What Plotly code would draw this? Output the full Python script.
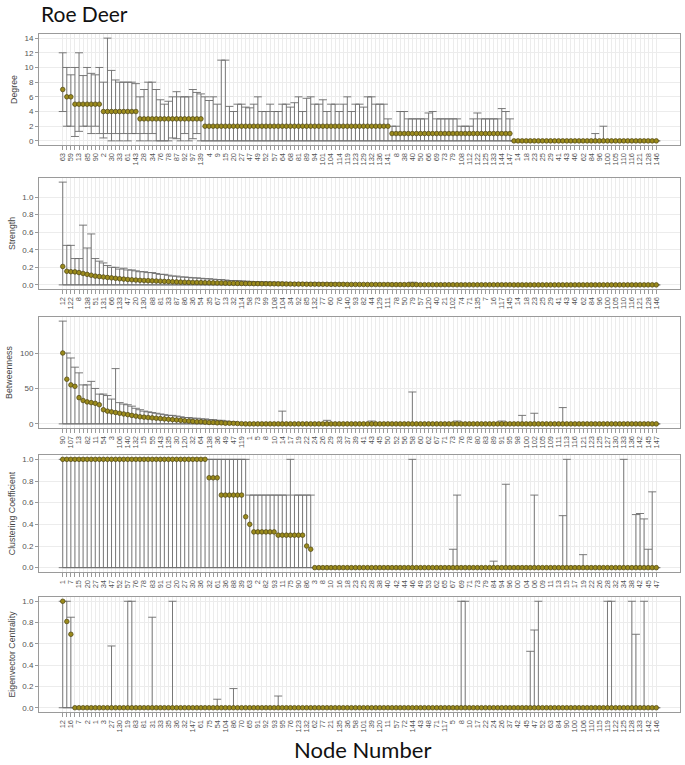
import plotly.graph_objects as go

# ---------------- DATA ----------------
# Degree panel (nodes sorted by value; every second node labelled)
deg_labels = ["63","59","13","85","90","2","30","33","61","143","28","34","76","78","87","92","97","139",
              "4","9","15","20","27","47","49","52","57","64","68","81","89","94","101","104","114","119",
              "123","129","132","136","141","8","38","40","50","66","69","73","79","108","112","122","125",
              "133","144","147","14","18","23","25","29","41","43","46","62","84","96","100","105","110",
              "116","121","128","146"]
deg_values = [7, 6, 6] + [5]*7 + [4]*9 + [3]*16 + [2]*46 + [1]*30 + [0]*36
deg_upper = ([12, 10, 9, 10, 12, 8.9, 10, 9.2, 9, 10, 8, 14, 9.6, 8.3, 8, 8, 8, 8, 7.8,
              6, 7, 8, 8, 7, 5.6, 5, 5.4, 6, 6.7, 6, 6, 6, 7, 6.6, 6.4,
              6, 5.5, 6, 5, 11, 11, 4.7, 4, 5, 5, 4.6, 4.5, 5, 6, 4, 4, 5, 4, 4, 5, 5, 4.6, 5.2, 6, 4,
              5.8, 6, 5, 5, 5.6, 4, 5, 5, 4, 5, 6, 4, 5, 5, 4.6, 6, 6, 5, 5, 5, 3,
              2, 2, 4, 4, 3, 3, 3, 3, 3, 3.8, 4, 3, 3, 3, 3, 3, 3, 2, 2, 2, 3, 3.8, 3, 3, 3, 3, 3, 4.4, 4, 3]
             + [0]*20 + [1, 0, 2] + [0]*13)
deg_lower = [4, 2, 2, 0.6, 1.3, 2, 2, 1, 2, 1, 0.4, 1, 0, 1, 0, 1, 0, 1, 1,
             0, 1, 0, 1, 0, 0, 0, 0, 0.4, 0.3, 0, 1, 0, 0.3, 1, 0] + [0]*112

# Strength panel
str_labels = ["12","122","8","138","51","131","66","133","47","20","130","88","81","33","87","86","36","54",
              "35","67","13","32","114","58","73","99","108","104","34","92","85","132","77","60","76","140",
              "93","82","44","129","111","78","50","79","57","120","40","21","102","74","71","135","7","16",
              "117","145","14","18","23","25","29","41","43","46","62","84","96","100","105","110","116",
              "121","128","146"]
str_values = ([0.21, 0.155, 0.15, 0.148, 0.14, 0.13, 0.12, 0.11, 0.10, 0.095,
               0.09, 0.085, 0.08, 0.075, 0.07, 0.066, 0.062, 0.058, 0.055, 0.052,
               0.05, 0.048, 0.046, 0.044, 0.042, 0.04, 0.038, 0.036, 0.034, 0.032,
               0.03, 0.029, 0.028, 0.027, 0.026, 0.025, 0.024, 0.023, 0.022, 0.021,
               0.02, 0.019, 0.018, 0.017, 0.016, 0.015, 0.015, 0.014, 0.014, 0.013,
               0.013, 0.012, 0.012, 0.011, 0.011, 0.010, 0.010, 0.009, 0.009, 0.009,
               0.008, 0.008, 0.008, 0.007, 0.007, 0.007, 0.006, 0.006, 0.006, 0.006,
               0.005, 0.005, 0.005, 0.005, 0.005, 0.004, 0.004, 0.004, 0.004, 0.004,
               0.004, 0.003, 0.003, 0.003, 0.003, 0.003, 0.003, 0.003, 0.002, 0.002,
               0.002, 0.002, 0.002, 0.002, 0.002, 0.002, 0.002, 0.001, 0.001, 0.001,
               0.001, 0.001, 0.001, 0.001, 0.001, 0.001, 0.001, 0.001, 0.001, 0.001, 0.001]
              + [0]*36)
str_upper = ([1.17, 0.45, 0.45, 0.30, 0.30, 0.68, 0.42, 0.58, 0.30, 0.27,
              0.25, 0.22, 0.20, 0.20, 0.18, 0.19, 0.17, 0.17, 0.16, 0.15,
              0.15, 0.14, 0.14, 0.13, 0.12, 0.12, 0.11, 0.10, 0.10, 0.09,
              0.09, 0.085, 0.08, 0.08, 0.075, 0.07, 0.07, 0.065, 0.06, 0.06,
              0.055, 0.05, 0.05, 0.048, 0.045, 0.042, 0.04, 0.038, 0.036, 0.035,
              0.033, 0.032, 0.031, 0.03, 0.029, 0.028, 0.027, 0.026, 0.026, 0.025,
              0.024, 0.023, 0.022, 0.022, 0.021, 0.02, 0.02, 0.019, 0.018, 0.018,
              0.017, 0.016, 0.016, 0.015, 0.014, 0.014, 0.013, 0.013, 0.012, 0.012,
              0.011, 0.011, 0.01, 0.01, 0.009, 0.009, 0.03, 0.008, 0.008, 0.007,
              0.006, 0.006, 0.006, 0.005, 0.005, 0.005, 0.004, 0.004, 0.004, 0.004,
              0.003, 0.003, 0.003, 0.003, 0.003, 0.002, 0.002, 0.002, 0.002, 0.002, 0.002]
             + [0]*36)
str_lower = [0]*147

# Betweenness panel
btw_labels = ["90","107","13","82","11","54","3","106","140","132","15","55","143","135","30","120","32","64",
              "138","36","49","47","119","1","5","8","10","14","17","19","22","24","26","29","33","37","39",
              "41","43","45","50","52","56","58","60","62","67","71","73","76","78","80","83","89","91","95",
              "98","100","102","105","109","111","113","116","121","123","125","127","130","133","136","142",
              "145","147"]
btw_values = ([100, 63, 55, 53, 37, 33, 31, 30, 29, 27,
               20, 18, 17, 16, 15, 14, 13, 12, 11, 10,
               9.5, 9, 8.5, 8, 7.5, 7, 6.5, 6, 5.5, 5,
               4.5, 4, 3.5, 3, 3, 2.5, 2, 2, 1.5, 1.5,
               1, 1, 0.8, 0.5, 0.3] + [0]*102)
btw_upper = ([145, 100, 93, 80, 72, 55, 55, 60, 50, 42,
              42, 40, 35, 78, 30, 28, 27, 25, 22, 20,
              18, 17, 16, 15, 14, 13, 12, 12, 11, 10,
              9, 9, 8, 8, 7, 7, 6, 6, 5, 5,
              4, 3, 3, 2, 2]
             + [0]*9 + [18] + [0]*10 + [5] + [0]*10 + [4] + [0]*9 + [45] + [0]*10 + [4]
             + [0]*10 + [4] + [0]*4 + [12] + [0]*2 + [15] + [0]*6 + [23] + [0]*23)
btw_lower = [0]*147

# Clustering coefficient panel
clu_labels = ["1","7","15","20","27","34","47","52","57","76","78","83","91","01","20","27","30","36",
              "32","61","36","88","39","63","2","82","93","11","75","90","86","3","8","10","16","18","23",
              "25","28","38","40","42","44","46","49","53","62","65","67","69","71","73","79","84","94","96",
              "00","04","06","09","11","13","15","17","19","22","26","28","32","34","38","42","45","47"]
clu_values = ([1.0]*36 + [0.83]*3 + [0.67]*6 + [0.47, 0.4] + [0.33]*6 + [0.3]*7 + [0.2, 0.17]
              + [0]*85)
clu_upper = ([1.0]*36 + [1.0]*3 + [1.0]*6 + [1.0, 0.67] + [0.67]*6
             + [0.67, 0.67, 0.67, 1.0, 0.67, 0.67, 0.67] + [0.67, 0.67]
             + [0]*24 + [1.0] + [0]*9 + [0.17, 0.67] + [0]*8 + [0.06] + [0]*2 + [0.77]
             + [0]*6 + [0.67] + [0]*6 + [0.48, 1.0] + [0]*3 + [0.12] + [0]*9 + [1.0]
             + [0]*2 + [0.49, 0.5, 0.45, 0.17, 0.7, 0])
clu_lower = [0]*147

# Eigenvector centrality panel
eig_labels = ["12","16","7","2","1","3","27","130","19","83","81","31","33","35","36","32","147","61",
              "75","54","104","86","70","65","91","92","93","95","76","123","132","62","77","21","135",
              "36","58","101","39","120","11","57","72","144","43","48","71","117","5","8","10","17","22",
              "24","26","37","42","45","47","52","63","84","90","100","106","110","115","119","122","125",
              "128","133","142","146"]
eig_values = [1.0, 0.81, 0.69] + [0]*144
eig_upper = ([1.0, 1.0, 0.85] + [0]*9 + [0.58] + [0]*3 + [1.0, 1.0] + [0]*4 + [0.85] + [0]*4
             + [1.0] + [0]*10 + [0.08] + [0]*3 + [0.18] + [0]*10 + [0.11] + [0]*44 + [1.0, 1.0]
             + [0]*15 + [0.53, 0.73, 1.0] + [0]*16 + [1.0, 1.0] + [0]*4 + [1.0, 0.69, 0, 1.0]
             + [0]*3)
eig_lower = [0]*147

for arr in (deg_values, deg_upper, deg_lower, str_values, str_upper, str_lower,
            btw_values, btw_upper, btw_lower, clu_values, clu_upper, clu_lower,
            eig_values, eig_upper, eig_lower):
    assert len(arr) == 147, len(arr)

panels = [
    ("Degree", deg_labels, deg_values, deg_upper, deg_lower, [0, 2, 4, 6, 8, 10, 12, 14], None),
    ("Strength", str_labels, str_values, str_upper, str_lower, [0, 0.2, 0.4, 0.6, 0.8, 1.0], ".1f"),
    ("Betweenness", btw_labels, btw_values, btw_upper, btw_lower, [0, 50, 100], None),
    ("Clustering Coefficient", clu_labels, clu_values, clu_upper, clu_lower, [0, 0.2, 0.4, 0.6, 0.8, 1.0], ".1f"),
    ("Eigenvector Centrality", eig_labels, eig_values, eig_upper, eig_lower, [0, 0.2, 0.4, 0.6, 0.8, 1.0], ".1f"),
]

# ---------------- LAYOUT ----------------
W, H = 685, 765
boxes = [(34, 145), (178, 289), (317, 428), (455, 572), (597, 712)]
x_left, x_right = 39, 680

fig = go.Figure()
layout = dict(width=W, height=H, margin=dict(l=0, r=0, t=0, b=0),
              paper_bgcolor="white", plot_bgcolor="white", showlegend=False)

for k, (name, labels, vals, up, lo, yt, fmt) in enumerate(panels):
    n = len(vals)
    xs = list(range(n))
    plus = [max(u - v, 0) for u, v in zip(up, vals)]
    minus = [max(v - l, 0) for l, v in zip(lo, vals)]
    ax = "" if k == 0 else str(k + 1)
    fig.add_trace(go.Scatter(
        x=xs, y=vals, mode="markers", xaxis="x" + ax, yaxis="y" + ax,
        marker=dict(size=4.6, color="#9a8a1c", line=dict(color="#4d4512", width=0.7)),
        error_y=dict(type="data", symmetric=False, array=plus, arrayminus=minus,
                     color="#6b6b6b", thickness=0.9, width=4),
        hoverinfo="skip"))
    ticktext = []
    for i in range(n):
        ticktext.append(labels[i // 2] if i % 2 == 0 else "")
    top, bot = boxes[k]
    ymax = max(max(up), max(vals))
    ymin = 0
    pad = (ymax - ymin) * 0.04
    layout["xaxis" + ax] = dict(
        domain=[x_left / W, x_right / W], anchor="y" + ax,
        range=[-(n - 1) * 0.04, (n - 1) * 1.04],
        tickmode="array", tickvals=xs, ticktext=ticktext, tickangle=-90,
        ticks="outside", ticklen=4, tickwidth=0.8, tickcolor="#9a9a9a",
        tickfont=dict(family="Liberation Sans, Arial", size=7.5, color="#555555"),
        showgrid=True, gridcolor="#ececec", gridwidth=0.8,
        showline=True, linecolor="#9a9a9a", linewidth=1, mirror=True, zeroline=False)
    layout["yaxis" + ax] = dict(
        domain=[1 - bot / H, 1 - top / H], anchor="x" + ax,
        range=[ymin - pad, ymax + pad],
        tickmode="array", tickvals=yt, tickformat=fmt,
        ticks="outside", ticklen=3, tickwidth=0.8, tickcolor="#9a9a9a",
        tickfont=dict(family="Liberation Sans, Arial", size=8, color="#555555"),
        title=dict(text=name, font=dict(family="Liberation Sans, Arial", size=8.8, color="#444444"),
                   standoff=5),
        showgrid=True, gridcolor="#ececec", gridwidth=0.8,
        showline=True, linecolor="#9a9a9a", linewidth=1, mirror=True, zeroline=False)

layout["annotations"] = [
    dict(text="Roe Deer", x=39 / W, y=1 - 13 / H, xref="paper", yref="paper",
         xanchor="left", yanchor="middle", showarrow=False,
         font=dict(family="Lato, Open Sans", size=21, color="#111111")),
    dict(text="Node Number", x=362 / W, y=1 - 749 / H, xref="paper", yref="paper",
         xanchor="center", yanchor="middle", showarrow=False,
         font=dict(family="Lato, Open Sans", size=22, color="#111111")),
]
fig.update_layout(**layout)
fig.write_html("out.html", config={"displayModeBar": False},
               post_script="document.body.style.margin='0px';document.body.style.overflow='hidden';")
